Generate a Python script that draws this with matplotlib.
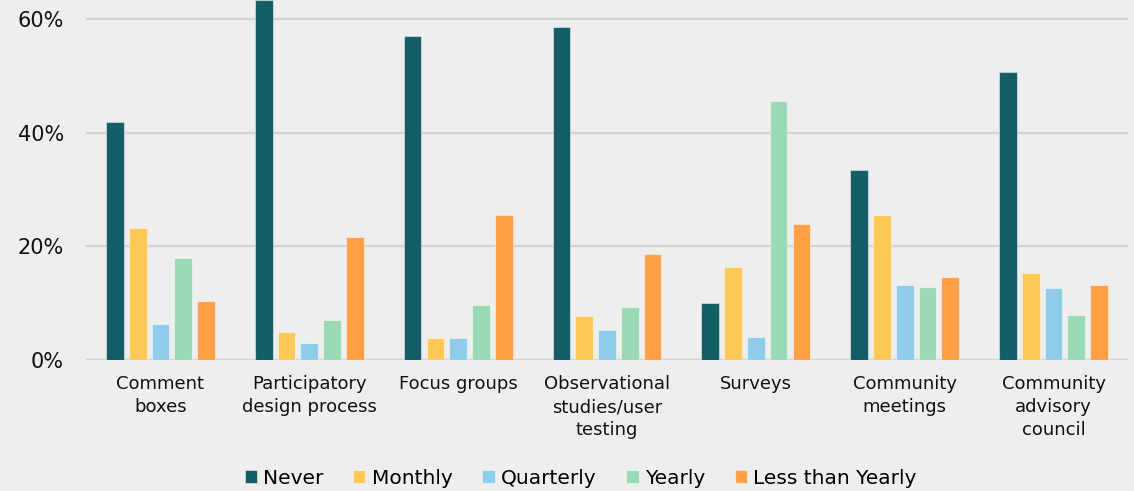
import matplotlib.pyplot as plt
import numpy as np

# categories and series (percent)
categories = ["Comment\nboxes", "Participatory\ndesign process", "Focus groups",
              "Observational\nstudies/user\ntesting", "Surveys",
              "Community\nmeetings", "Community\nadvisory\ncouncil"]
series_names = ["Never", "Monthly", "Quarterly", "Yearly", "Less than Yearly"]
never = [41.9, 63.4, 57.0, 58.7, 10.0, 33.5, 50.7]
monthly = [23.3, 4.9, 3.8, 7.8, 16.3, 25.6, 15.3]
quarterly = [6.3, 3.0, 3.8, 5.2, 4.0, 13.2, 12.7]
yearly = [18.0, 7.0, 9.6, 9.4, 45.6, 12.8, 7.9]
less_yearly = [10.4, 21.6, 25.6, 18.7, 24.0, 14.7, 13.2]
colors = ["#135e66", "#ffc857", "#8ecde9", "#99dab4", "#ffa046"]

bg = "#eeeeee"
fig = plt.figure(figsize=(11.34, 4.91), dpi=100, facecolor=bg)
ax = fig.add_axes([86/1134, 131/491, 1042/1134, 360/491])
ax.set_facecolor(bg)

x = np.arange(len(categories))
pitch = 0.153
width = 0.119
all_series = [never, monthly, quarterly, yearly, less_yearly]
for i, (name, vals) in enumerate(zip(series_names, all_series)):
    ax.bar(x + (i - 2) * pitch, vals, width, color=colors[i], label=name,
           edgecolor=(1, 1, 1, 0.45), linewidth=0.8, zorder=3)

ax.set_xlim(-0.5, len(categories) - 0.5)
ax.set_ylim(0, 63.4)
ax.set_yticks([0, 20, 40, 60])
ax.set_yticklabels(["0%", "20%", "40%", "60%"], fontsize=15, color="#111111")
ax.yaxis.grid(True, color="#d2d2d2", linewidth=1.6, zorder=0)
ax.set_axisbelow(True)
ax.axhline(0, color="#d2d2d2", linewidth=1.6, zorder=2)
for s in ax.spines.values():
    s.set_visible(False)
ax.tick_params(axis="both", length=0)
ax.tick_params(axis="y", pad=16)
ax.set_xticks(x)
ax.set_xticklabels(categories, fontsize=13, color="#111111", linespacing=1.35,
                   va="top")
ax.tick_params(axis="x", pad=11)

leg = fig.legend(loc="lower center", bbox_to_anchor=(0.512, -0.03), ncol=5,
                 frameon=False, fontsize=14.5, handlelength=0.6, handleheight=0.6,
                 handletextpad=0.3, columnspacing=1.5)

fig.savefig("out.png", dpi=100, facecolor=bg)
